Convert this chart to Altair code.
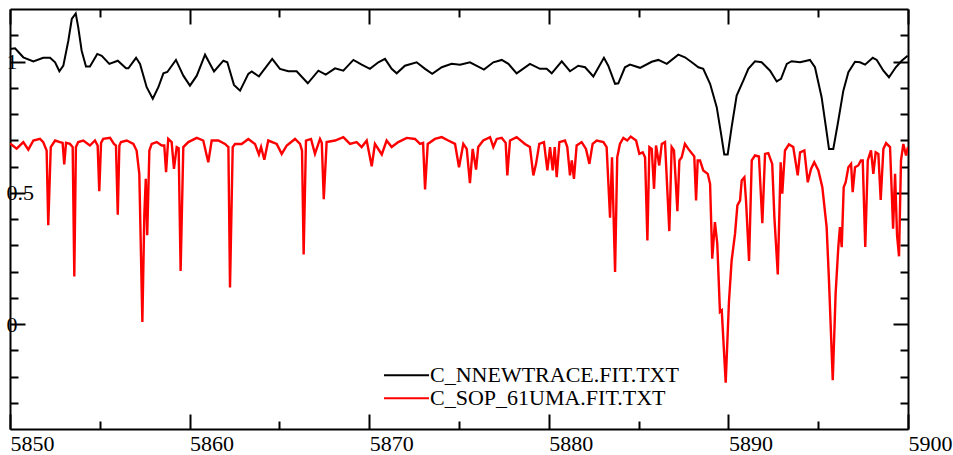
import altair as alt
import pandas as pd

# ---------------- data ----------------
series_names = ["C_NNEWTRACE.FIT.TXT", "C_SOP_61UMA.FIT.TXT"]
series_colors = ["#000000", "#ff0000"]
series_widths = [2.0, 2.4]

black_wl = [
    5850.00, 5850.28, 5850.74, 5851.30, 5851.85, 5852.23, 5852.51, 5852.75, 5852.97, 5853.25,
    5853.44, 5853.66, 5853.80, 5853.99, 5854.23, 5854.45, 5854.86, 5855.11, 5855.53, 5856.00,
    5856.46, 5856.59, 5857.02, 5857.24, 5857.61, 5857.95, 5858.26, 5858.54, 5858.76, 5859.24,
    5859.65, 5860.02, 5860.40, 5860.86, 5861.36, 5861.88, 5862.10, 5862.47, 5862.81, 5863.27,
    5863.46, 5863.86, 5864.60, 5865.03, 5865.50, 5865.96, 5866.58, 5867.17, 5867.58, 5868.10,
    5868.56, 5869.12, 5869.58, 5870.04, 5870.51, 5870.88, 5871.25, 5871.53, 5871.99, 5872.64,
    5873.11, 5873.51, 5874.04, 5874.59, 5875.06, 5875.61, 5876.39, 5876.91, 5877.38, 5877.75,
    5878.21, 5878.95, 5879.51, 5879.88, 5880.16, 5880.72, 5881.18, 5881.64, 5882.02, 5882.48,
    5883.07, 5883.31, 5883.69, 5883.87, 5884.24, 5884.52, 5885.08, 5885.73, 5886.10, 5886.57,
    5887.21, 5887.58, 5887.96, 5888.33, 5888.60, 5888.98, 5889.35, 5889.59, 5889.77, 5889.96,
    5890.18, 5890.46, 5890.83, 5891.11, 5891.48, 5891.85, 5892.32, 5892.69, 5892.93, 5893.25,
    5893.52, 5893.99, 5894.54, 5894.82, 5895.19, 5895.47, 5895.60, 5895.84, 5896.09, 5896.40,
    5896.68, 5897.05, 5897.33, 5897.61, 5898.04, 5898.26, 5898.63, 5898.94, 5899.32, 5899.65, 5899.98,
]
black_flux = [
    1.048, 1.050, 1.016, 1.000, 1.014, 1.014, 0.997, 0.963, 0.984, 1.080,
    1.162, 1.183, 1.130, 1.041, 0.981, 0.981, 1.029, 1.022, 0.991, 1.003,
    0.974, 0.974, 1.014, 0.991, 0.902, 0.858, 0.902, 0.955, 0.960, 1.006,
    0.946, 0.908, 0.946, 1.026, 0.962, 1.003, 0.997, 0.911, 0.889, 0.953,
    0.962, 0.943, 1.010, 0.972, 0.963, 0.963, 0.917, 0.965, 0.950, 0.974,
    0.965, 1.006, 0.988, 0.972, 0.997, 1.010, 0.972, 0.955, 0.984, 0.997,
    0.972, 0.953, 0.978, 0.991, 0.988, 0.997, 0.969, 0.997, 1.006, 0.991,
    0.955, 0.991, 0.972, 0.972, 0.955, 1.001, 0.963, 0.984, 0.978, 0.943,
    1.014, 0.984, 0.915, 0.917, 0.978, 0.988, 0.976, 0.999, 1.006, 0.991,
    1.026, 1.016, 0.997, 0.978, 0.972, 0.915, 0.826, 0.725, 0.646, 0.646,
    0.750, 0.870, 0.927, 0.972, 1.001, 0.997, 0.965, 0.924, 0.934, 0.991,
    1.001, 0.997, 1.006, 0.978, 0.864, 0.731, 0.667, 0.667, 0.763, 0.889,
    0.959, 0.999, 0.997, 0.988, 1.014, 1.006, 0.965, 0.940, 0.978, 1.003, 1.022,
]

red_wl = [
    5850.00, 5850.37, 5850.74, 5851.02, 5851.30, 5851.67, 5851.85, 5852.04, 5852.13, 5852.27,
    5852.51, 5852.78, 5852.93, 5853.02, 5853.12, 5853.34, 5853.49, 5853.58, 5853.67, 5853.80,
    5854.08, 5854.45, 5854.73, 5854.88, 5854.97, 5855.07, 5855.19, 5855.57, 5855.79, 5855.90,
    5856.00, 5856.09, 5856.18, 5856.50, 5856.87, 5857.05, 5857.20, 5857.37, 5857.48, 5857.56,
    5857.64, 5857.76, 5857.89, 5858.17, 5858.45, 5858.59, 5858.69, 5858.81, 5859.00, 5859.13,
    5859.28, 5859.39, 5859.50, 5859.65, 5859.93, 5860.40, 5860.76, 5861.04, 5861.23, 5861.60,
    5861.97, 5862.16, 5862.25, 5862.40, 5862.53, 5862.90, 5863.27, 5863.64, 5863.86, 5863.98,
    5864.16, 5864.38, 5864.85, 5865.13, 5865.41, 5865.87, 5866.15, 5866.26, 5866.35, 5866.48,
    5866.76, 5866.98, 5867.26, 5867.36, 5867.47, 5867.63, 5868.10, 5868.56, 5868.93, 5869.30,
    5869.58, 5869.86, 5870.14, 5870.32, 5870.70, 5870.97, 5871.25, 5871.62, 5872.09, 5872.55,
    5872.83, 5873.00, 5873.11, 5873.26, 5873.66, 5874.04, 5874.40, 5874.78, 5875.00, 5875.24,
    5875.43, 5875.61, 5875.76, 5875.95, 5876.07, 5876.35, 5876.73, 5876.91, 5877.10, 5877.38,
    5877.60, 5877.69, 5877.84, 5878.21, 5878.67, 5878.95, 5879.14, 5879.29, 5879.47, 5879.73,
    5879.92, 5880.07, 5880.22, 5880.33, 5880.44, 5880.59, 5880.90, 5881.03, 5881.18, 5881.28,
    5881.40, 5881.55, 5881.83, 5882.07, 5882.26, 5882.44, 5882.67, 5883.04, 5883.22, 5883.41,
    5883.52, 5883.69, 5883.81, 5883.96, 5884.15, 5884.37, 5884.56, 5884.86, 5885.04, 5885.23,
    5885.36, 5885.49, 5885.60, 5885.73, 5885.86, 5885.97, 5886.15, 5886.29, 5886.47, 5886.71,
    5886.84, 5886.97, 5887.16, 5887.27, 5887.40, 5887.58, 5887.77, 5887.99, 5888.10, 5888.20,
    5888.29, 5888.42, 5888.60, 5888.85, 5888.98, 5889.10, 5889.25, 5889.38, 5889.53, 5889.63,
    5889.85, 5890.03, 5890.18, 5890.37, 5890.50, 5890.65, 5890.74, 5890.89, 5890.98, 5891.15,
    5891.30, 5891.48, 5891.70, 5891.89, 5892.04, 5892.22, 5892.44, 5892.56, 5892.75, 5892.91,
    5893.00, 5893.15, 5893.37, 5893.61, 5893.86, 5893.99, 5894.23, 5894.42, 5894.60, 5894.78,
    5895.01, 5895.23, 5895.47, 5895.60, 5895.81, 5895.97, 5896.12, 5896.21, 5896.31, 5896.42,
    5896.53, 5896.68, 5896.83, 5896.92, 5897.05, 5897.23, 5897.38, 5897.48, 5897.62, 5897.76,
    5897.94, 5898.07, 5898.20, 5898.35, 5898.48, 5898.63, 5898.78, 5899.00, 5899.17, 5899.28,
    5899.39, 5899.50, 5899.61, 5899.74, 5899.89, 5900.00,
]
red_flux = [
    0.688, 0.668, 0.693, 0.664, 0.699, 0.705, 0.693, 0.661, 0.376, 0.674,
    0.699, 0.693, 0.690, 0.608, 0.690, 0.686, 0.674, 0.181, 0.674, 0.693,
    0.699, 0.680, 0.699, 0.680, 0.506, 0.690, 0.705, 0.709, 0.686, 0.680,
    0.416, 0.680, 0.693, 0.699, 0.686, 0.661, 0.572, 0.008, 0.420, 0.553,
    0.338, 0.661, 0.686, 0.693, 0.680, 0.680, 0.578, 0.705, 0.693, 0.591,
    0.674, 0.670, 0.202, 0.674, 0.693, 0.709, 0.699, 0.616, 0.699, 0.699,
    0.686, 0.674, 0.139, 0.674, 0.686, 0.686, 0.705, 0.686, 0.646, 0.674,
    0.626, 0.699, 0.686, 0.648, 0.680, 0.705, 0.686, 0.660, 0.265, 0.699,
    0.705, 0.648, 0.705, 0.690, 0.475, 0.693, 0.699, 0.712, 0.686, 0.693,
    0.674, 0.699, 0.601, 0.686, 0.646, 0.699, 0.674, 0.693, 0.709, 0.705,
    0.686, 0.690, 0.513, 0.686, 0.705, 0.712, 0.699, 0.686, 0.597, 0.686,
    0.667, 0.537, 0.667, 0.588, 0.674, 0.699, 0.712, 0.674, 0.705, 0.709,
    0.690, 0.566, 0.699, 0.712, 0.686, 0.674, 0.566, 0.610, 0.686, 0.693,
    0.585, 0.674, 0.585, 0.674, 0.559, 0.693, 0.699, 0.674, 0.566, 0.623,
    0.553, 0.680, 0.693, 0.667, 0.610, 0.686, 0.699, 0.693, 0.674, 0.405,
    0.635, 0.198, 0.635, 0.686, 0.709, 0.699, 0.714, 0.699, 0.648, 0.654,
    0.635, 0.318, 0.674, 0.667, 0.515, 0.680, 0.604, 0.686, 0.693, 0.354,
    0.674, 0.661, 0.430, 0.623, 0.635, 0.686, 0.667, 0.648, 0.638, 0.471,
    0.623, 0.623, 0.585, 0.572, 0.534, 0.249, 0.388, 0.306, 0.046, 0.052,
    -0.224, 0.084, 0.242, 0.344, 0.452, 0.471, 0.547, 0.559, 0.471, 0.240,
    0.623, 0.642, 0.638, 0.384, 0.648, 0.651, 0.610, 0.407, 0.189, 0.616,
    0.496, 0.661, 0.684, 0.674, 0.566, 0.654, 0.661, 0.540, 0.591, 0.616,
    0.585, 0.521, 0.369, 0.166, -0.214, 0.116, 0.293, 0.369, 0.293, 0.521,
    0.540, 0.597, 0.610, 0.502, 0.597, 0.604, 0.623, 0.623, 0.293, 0.623,
    0.661, 0.572, 0.654, 0.648, 0.473, 0.667, 0.689, 0.674, 0.363, 0.572,
    0.338, 0.258, 0.623, 0.686, 0.642, 0.674,
]

x_domain = [5850, 5900]
y_domain = [-0.4, 1.2]
x_major = [5850, 5860, 5870, 5880, 5890, 5900]
x_minor = [5855, 5865, 5875, 5885, 5895]
y_major = [0, 0.5, 1]
y_minor = [-0.3, -0.2, -0.1, 0.1, 0.2, 0.3, 0.4, 0.6, 0.7, 0.8, 0.9, 1.1]

# ---------------- layout ----------------
W, H = 898, 420
FONT = "Liberation Serif, Times New Roman, Times, DejaVu Serif, serif"
FS = 22

df = pd.concat([
    pd.DataFrame({"wl": black_wl, "flux": black_flux, "series": series_names[0],
                  "lw": series_widths[0]}),
    pd.DataFrame({"wl": red_wl, "flux": red_flux, "series": series_names[1],
                  "lw": series_widths[1]}),
], ignore_index=True)

xs = alt.Scale(domain=x_domain, nice=False, zero=False)
ys = alt.Scale(domain=y_domain, nice=False, zero=False)

common = dict(title=None, grid=False, domainColor="black", domainWidth=2,
              tickColor="black", tickWidth=2)


def tick_axis(orient, offset, values, size, domain=False):
    return alt.Axis(orient=orient, offset=offset, values=values, ticks=True,
                    tickSize=size, labels=False, domain=domain, **common)


base = alt.Chart(df)

# main layer: lines + labelled axes (bottom / left)
lines = base.mark_line(clip=True).encode(
    x=alt.X("wl:Q", scale=xs, axis=alt.Axis(
        orient="bottom", values=x_major, ticks=False, tickSize=0, domain=True,
        labels=True, labelFont=FONT, labelFontSize=FS, labelColor="black",
        labelAlign="left", labelBaseline="top", labelPadding=4,
        labelFlush=False, labelOverlap=False, format="d", **common)),
    y=alt.Y("flux:Q", scale=ys, axis=alt.Axis(
        orient="left", values=y_major, ticks=False, tickSize=0, domain=True,
        labels=True, labelFont=FONT, labelFontSize=FS, labelColor="black",
        labelAlign="left", labelBaseline="middle", labelPadding=4,
        labelFlush=False, labelOverlap=False, format="~g", **common)),
    color=alt.Color("series:N", scale=alt.Scale(domain=series_names, range=series_colors),
                    legend=alt.Legend(title=None, orient="none", legendX=373, legendY=355,
                                      symbolType="stroke", symbolSize=2025,
                                      symbolStrokeWidth=2, labelFont=FONT,
                                      labelFontSize=FS, labelColor="black",
                                      labelOffset=0, rowPadding=0, padding=0,
                                      clipHeight=22.6, labelLimit=500)),
    strokeWidth=alt.StrokeWidth("lw:Q", scale=None, legend=None),
    detail="series:N",
)


def ghost(xaxis, yaxis):
    return base.mark_line(opacity=0).encode(
        x=alt.X("wl:Q", scale=xs, axis=xaxis),
        y=alt.Y("flux:Q", scale=ys, axis=yaxis),
        detail="series:N",
    )


# inward ticks on bottom edge and left edge
g1 = ghost(tick_axis("top", -H, x_major, 15), tick_axis("right", -W, y_major, 15))
g2 = ghost(tick_axis("top", -H, x_minor, 8), tick_axis("right", -W, y_minor, 8))
# inward ticks on top edge and right edge (with frame lines)
g3 = ghost(tick_axis("bottom", -H, x_major, 15, domain=True),
           tick_axis("left", -W, y_major, 15, domain=True))
g4 = ghost(tick_axis("bottom", -H, x_minor, 8), tick_axis("left", -W, y_minor, 8))

chart = alt.layer(lines, g1, g2, g3, g4).resolve_axis(
    x="independent", y="independent"
).properties(
    width=W, height=H,
    autosize=alt.AutoSizeParams(type="none"),
    padding={"left": 10, "top": 9, "right": 45, "bottom": 26},
    background="white",
).configure(font=FONT).configure_view(stroke=None)

chart.save("out.html", embed_options={"renderer": "svg", "actions": False})
